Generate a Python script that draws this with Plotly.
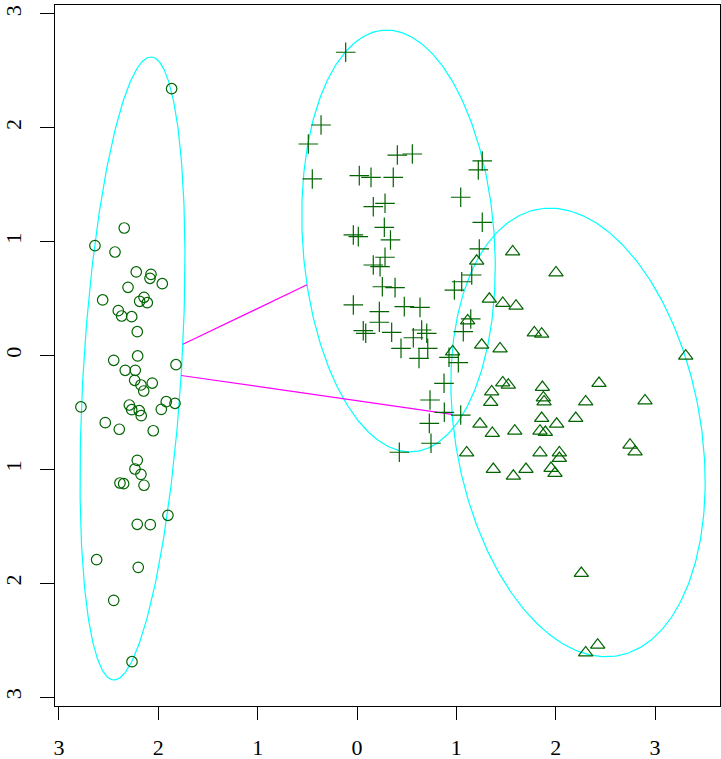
import numpy as np
import plotly.graph_objects as go

# ---- data ----
setosa_x = [-1.866, -2.343, -2.638, -2.436, -2.222, -2.074, -2.084, -1.960, -2.305, -2.560,
            -2.144, -2.188, -2.111, -2.403, -2.369, -2.268, -2.212, -2.449, -2.208, -1.822,
            -2.333, -2.232, -2.238, -2.175, -2.147, -2.061, -2.779, -2.292, -2.268, -2.192,
            -2.172, -1.920, -1.832, -1.970, -2.534, -2.393, -2.051, -2.212, -2.235, -2.175,
            -2.144, -2.386, -2.349, -1.903, -2.212, -2.081, -2.621, -2.202, -2.449, -2.265]
setosa_y = [2.344, 1.120, 0.965, 0.909, 0.734, 0.713, 0.678, 0.631, 0.599, 0.488,
            0.511, 0.476, 0.464, 0.394, 0.347, 0.341, 0.209, -0.042, -0.004, -0.081,
            -0.130, -0.130, -0.218, -0.259, -0.312, -0.242, -0.452, -0.435, -0.476, -0.485,
            -0.529, -0.406, -0.420, -0.473, -0.590, -0.648, -0.661, -0.921, -0.997, -1.044,
            -1.140, -1.120, -1.126, -1.404, -1.483, -1.486, -1.794, -1.861, -2.151, -2.690]

versicolor_x = [-0.114, -0.362, -0.490, -0.450, 0.023, 0.141, 0.406, 0.557, 0.365, 1.261,
                1.221, 1.044, 0.164, 0.282, 1.261, 0.275, -0.037, 0.013, 0.337, 1.231,
                0.282, 0.164, 0.232, 1.155, 1.054, 0.980, 0.255, 0.383, -0.037, 0.225,
                0.476, 0.634, 0.225, 0.063, 0.088, 0.349, 0.651, 0.702, 0.567, 0.443,
                0.712, 0.624, 0.926, 1.020, 1.145, 1.070, 0.876, 0.735, 0.879, 1.044,
                0.728, 0.745, 0.426]
versicolor_y = [2.664, 2.025, 1.858, 1.551, 1.580, 1.565, 1.761, 1.770, 1.565, 1.709,
                1.630, 1.390, 1.307, 1.337, 1.170, 1.126, 1.059, 1.044, 1.015, 0.936,
                0.863, 0.795, 0.780, 0.707, 0.648, 0.575, 0.604, 0.596, 0.444, 0.385,
                0.429, 0.423, 0.292, 0.218, 0.195, 0.204, 0.224, 0.195, 0.156, 0.063,
                0.063, -0.025, -0.016, -0.063, 0.321, 0.209, -0.244, -0.391, -0.499, -0.523,
                -0.596, -0.771, -0.850]

virginica_x = [1.567, 2.003, 1.205, 1.332, 1.467, 1.601, 1.114, 1.785, 1.859, 1.255,
               1.440, 0.963, 3.309, 1.467, 1.523, 1.356, 1.346, 1.866, 1.876, 1.883,
               2.436, 2.302, 2.899, 2.202, 1.859, 2.010, 1.238, 1.362, 1.588, 1.842,
               1.896, 1.104, 1.842, 2.037, 2.037, 2.748, 2.799, 1.372, 1.574, 1.701,
               1.953, 1.993, 2.258, 2.302, 2.423]
virginica_y = [0.912, 0.727, 0.830, 0.496, 0.459, 0.435, 0.306, 0.200, 0.189, 0.092,
               0.060, 0.033, -0.004, -0.239, -0.259, -0.318, -0.411, -0.279, -0.371, -0.406,
               -0.244, -0.406, -0.397, -0.552, -0.552, -0.602, -0.602, -0.683, -0.663, -0.663,
               -0.675, -0.854, -0.854, -0.854, -0.903, -0.786, -0.845, -1.000, -1.059, -1.000,
               -0.991, -1.035, -1.913, -2.611, -2.543]

# ellipse parameters: centre x, centre y, semi-major, semi-minor, tilt from vertical (deg)
ell_cx = [-2.260, 0.418, 2.225]
ell_cy = [-0.114, 1.006, -0.676]
ell_a = [2.743, 1.858, 2.003]
ell_b = [0.493, 0.964, 1.228]
ell_tilt = [4.02, -4.99, -13.18]

# pairs of ellipses joined by a segment between their borders
links = [(0, 1), (0, 2)]

tick_vals = [-3, -2, -1, 0, 1, 2, 3]
tick_text = ["3", "2", "1", "0", "1", "2", "3"]

GREEN = "#006400"
FONT = "Liberation Serif"


def axes(i):
    th = np.radians(ell_tilt[i])
    u = np.array([np.sin(th), np.cos(th)])
    v = np.array([np.cos(th), -np.sin(th)])
    return u, v


def ellipse_xy(i, n=361):
    t = np.linspace(0, 2 * np.pi, n)
    u, v = axes(i)
    x = ell_cx[i] + ell_a[i] * np.cos(t) * u[0] + ell_b[i] * np.sin(t) * v[0]
    y = ell_cy[i] + ell_a[i] * np.cos(t) * u[1] + ell_b[i] * np.sin(t) * v[1]
    return x, y


def border_point(i, d):
    u, v = axes(i)
    s = 1.0 / np.sqrt((d @ u / ell_a[i]) ** 2 + (d @ v / ell_b[i]) ** 2)
    return np.array([ell_cx[i], ell_cy[i]]) + s * d


fig = go.Figure()

for i in range(len(ell_cx)):
    ex, ey = ellipse_xy(i)
    fig.add_trace(go.Scatter(x=ex, y=ey, mode="lines",
                             line=dict(color="#00FFFF", width=1.2),
                             hoverinfo="skip", showlegend=False))

for i, j in links:
    d = np.array([ell_cx[j] - ell_cx[i], ell_cy[j] - ell_cy[i]])
    p = border_point(i, d)
    q = border_point(j, -d)
    fig.add_trace(go.Scatter(x=[p[0], q[0]], y=[p[1], q[1]], mode="lines",
                             line=dict(color="#FF00FF", width=1.2),
                             hoverinfo="skip", showlegend=False))

fig.add_trace(go.Scatter(x=setosa_x, y=setosa_y, mode="markers", showlegend=False,
                         marker=dict(symbol="circle-open", size=10.5, color=GREEN,
                                     line=dict(color=GREEN, width=1.2))))
fig.add_trace(go.Scatter(x=versicolor_x, y=versicolor_y, mode="markers", showlegend=False,
                         marker=dict(symbol="cross-thin-open", size=14, color=GREEN,
                                     line=dict(color=GREEN, width=1.2))))
fig.add_trace(go.Scatter(x=virginica_x, y=virginica_y, mode="markers", showlegend=False,
                         marker=dict(symbol="triangle-up-open", size=12.5, color=GREEN,
                                     line=dict(color=GREEN, width=1.2))))

axis_common = dict(tickvals=tick_vals, ticktext=tick_text, ticks="outside",
                   tickcolor="black", tickwidth=1, showline=True, mirror=True,
                   linecolor="black", linewidth=1, showgrid=False, zeroline=False,
                   automargin=False,
                   tickfont=dict(family=FONT, size=22, color="black"))

fig.update_layout(
    width=721, height=759,
    margin=dict(l=55, r=1, t=5, b=53),
    paper_bgcolor="white", plot_bgcolor="white",
    xaxis=dict(range=[-3.040, 3.654], ticklen=13, ticklabelstandoff=9, **axis_common),
    yaxis=dict(range=[-3.079, 3.079], ticklen=14, tickangle=-90, ticklabelstandoff=10,
               **axis_common),
)

fig.write_html("out.html", config={"displayModeBar": False},
               post_script="document.body.style.margin='0px';document.body.style.overflow='hidden';")
